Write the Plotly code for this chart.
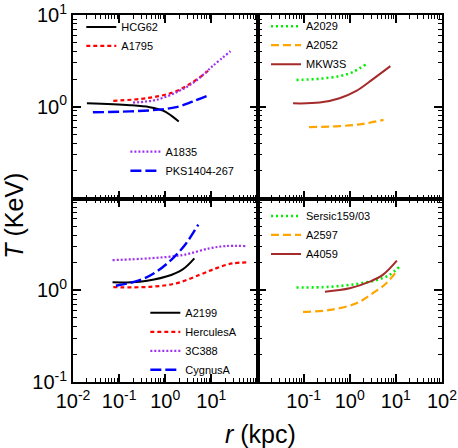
import math
import plotly.graph_objects as go
from plotly.subplots import make_subplots

# top left panel
hcg62_r = [0.020, 0.171, 0.46, 0.89, 1.35, 1.96]
hcg62_T = [1.09, 1.04, 0.99, 0.91, 0.80, 0.69]
a1795_r = [0.0746, 0.39, 1.46, 3.33, 7.6, 9.0]
a1795_T = [1.16, 1.24, 1.43, 1.76, 2.35, 2.55]
a1835_r = [0.20, 0.64, 2.03, 4.6, 10.6, 26.0]
a1835_T = [1.11, 1.19, 1.49, 1.91, 2.77, 4.03]
pks_r = [0.027, 0.171, 0.64, 1.73, 3.9, 8.2]
pks_T = [0.87, 0.89, 0.925, 0.99, 1.14, 1.32]

# top right panel
a2029_r = [0.07, 0.223, 0.60, 1.17, 2.21]
a2029_T = [1.96, 2.02, 2.16, 2.39, 2.89]
a2052_r = [0.131, 0.60, 1.93, 5.4]
a2052_T = [0.60, 0.615, 0.65, 0.72]
mkw3s_r = [0.059, 0.223, 0.60, 1.39, 3.18, 7.6]
mkw3s_T = [1.09, 1.11, 1.24, 1.49, 2.0, 2.77]

# bottom left panel
a2199_r = [0.072, 0.28, 1.05, 2.39, 4.27]
a2199_T = [1.22, 1.24, 1.41, 1.69, 2.23]
herc_r = [0.0746, 0.46, 1.73, 5.5, 12.5, 28.4, 65.0]
herc_T = [1.08, 1.09, 1.19, 1.47, 1.73, 1.96, 2.01]
c388_r = [0.072, 0.46, 2.39, 9.0, 20.5, 55.0]
c388_T = [2.13, 2.23, 2.42, 2.86, 3.03, 3.03]
cyg_r = [0.085, 0.28, 0.64, 1.46, 2.83, 5.2]
cyg_T = [1.12, 1.29, 1.59, 2.23, 3.24, 5.2]

# bottom right panel
sersic_r = [0.07, 0.37, 1.39, 3.77, 7.3, 12.0]
sersic_T = [1.07, 1.09, 1.17, 1.29, 1.47, 1.81]
a2597_r = [0.097, 0.37, 1.39, 3.18, 6.2, 10.5]
a2597_T = [0.58, 0.61, 0.72, 0.93, 1.19, 1.63]
a4059_r = [0.29, 1.0, 2.7, 5.2, 10.5]
a4059_T = [0.966, 1.05, 1.24, 1.47, 2.1]

x_ticks = [0.01, 0.1, 1, 10, 100]
y_ticks = [0.1, 1, 10]
minor_x = [m * 10 ** e for e in range(-2, 2) for m in range(2, 10)]
minor_y = [m * 10 ** e for e in range(-1, 1) for m in range(2, 10)]

fig = make_subplots(rows=2, cols=2, horizontal_spacing=0, vertical_spacing=0)

def add(r, T, name, color, dash, width, row, col, legend):
    fig.add_trace(go.Scatter(x=r, y=T, name=name, mode="lines", line_shape="spline",
                             line=dict(color=color, dash=dash, width=width), legend=legend),
                  row=row, col=col)

add(hcg62_r, hcg62_T, "HCG62", "black", "solid", 2, 1, 1, "legend")
add(a1795_r, a1795_T, "A1795", "#ff0000", "4px,3px", 2.2, 1, 1, "legend")
add(a1835_r, a1835_T, "A1835", "#a030f0", "2px,2px", 2.2, 1, 1, "legend2")
add(pks_r, pks_T, "PKS1404-267", "#0000ff", "11px,4px", 2.4, 1, 1, "legend2")

add(a2029_r, a2029_T, "A2029", "#00ee00", "2px,3px", 2.6, 1, 2, "legend3")
add(a2052_r, a2052_T, "A2052", "#ffa500", "8px,4px", 2.2, 1, 2, "legend3")
add(mkw3s_r, mkw3s_T, "MKW3S", "#a52a2a", "solid", 2, 1, 2, "legend3")

add(a2199_r, a2199_T, "A2199", "black", "solid", 2, 2, 1, "legend4")
add(herc_r, herc_T, "HerculesA", "#ff0000", "4px,3px", 2.2, 2, 1, "legend4")
add(c388_r, c388_T, "3C388", "#a030f0", "2px,2px", 2.2, 2, 1, "legend4")
add(cyg_r, cyg_T, "CygnusA", "#0000ff", "11px,4px", 2.4, 2, 1, "legend4")

add(sersic_r, sersic_T, "Sersic159/03", "#00ee00", "2px,3px", 2.6, 2, 2, "legend5")
add(a2597_r, a2597_T, "A2597", "#ffa500", "8px,4px", 2.2, 2, 2, "legend5")
add(a4059_r, a4059_T, "A4059", "#a52a2a", "solid", 2, 2, 2, "legend5")

def sup(v):
    return "10<sup>%d</sup>" % round(math.log10(v))

axis_style = dict(type="log", showline=True, linewidth=2, linecolor="black", mirror="allticks",
                  ticks="inside", ticklen=8, tickwidth=1.5, tickcolor="black", showgrid=False,
                  zeroline=False, automargin=False, tickfont=dict(size=20, color="black"))

for row in (1, 2):
    for col in (1, 2):
        xt = [sup(v) for v in x_ticks]
        if col == 1:
            xt[-1] = ""
        else:
            xt[0] = ""
        yt = [sup(v) for v in y_ticks]
        if row == 1:
            yt[0] = ""
        else:
            yt[-1] = ""
        fig.update_xaxes(axis_style, range=[-2, 2], tickmode="array", tickvals=x_ticks, ticktext=xt,
                         showticklabels=(row == 2),
                         minor=dict(ticks="inside", ticklen=4, tickwidth=1, tickcolor="black", tickvals=minor_x),
                         row=row, col=col)
        fig.update_yaxes(axis_style, range=[-1, 1], tickmode="array", tickvals=y_ticks, ticktext=yt,
                         showticklabels=(col == 1),
                         minor=dict(ticks="inside", ticklen=4, tickwidth=1, tickcolor="black", tickvals=minor_y),
                         row=row, col=col)

leg = dict(bgcolor="rgba(0,0,0,0)", borderwidth=0, font=dict(size=11, color="black"),
           xanchor="left", yanchor="top")
fig.update_layout(
    width=458, height=448,
    margin=dict(l=73, r=16, t=13, b=66),
    paper_bgcolor="white", plot_bgcolor="white",
    font=dict(family="Arial, Liberation Sans, sans-serif", color="black"),
    legend=dict(leg, x=0.0225, y=1.007),
    legend2=dict(leg, x=0.142, y=0.667),
    legend3=dict(leg, x=0.523, y=1.009),
    legend4=dict(leg, x=0.196, y=0.228),
    legend5=dict(leg, x=0.523, y=0.492),
)

fig.add_annotation(text="<i>T</i> (KeV)", xref="paper", yref="paper", x=-0.160, y=0.453,
                   xanchor="center", yanchor="middle", textangle=-90, showarrow=False,
                   font=dict(size=25))
fig.add_annotation(text="<i>r</i> (kpc)", xref="paper", yref="paper", x=0.508, y=-0.143,
                   xanchor="center", yanchor="middle", showarrow=False, font=dict(size=25))

# drop the default 8px page margin so the figure sits at the window corner
fig.write_html("out.html", config={"displayModeBar": False},
               post_script="document.body.style.margin='0';")
